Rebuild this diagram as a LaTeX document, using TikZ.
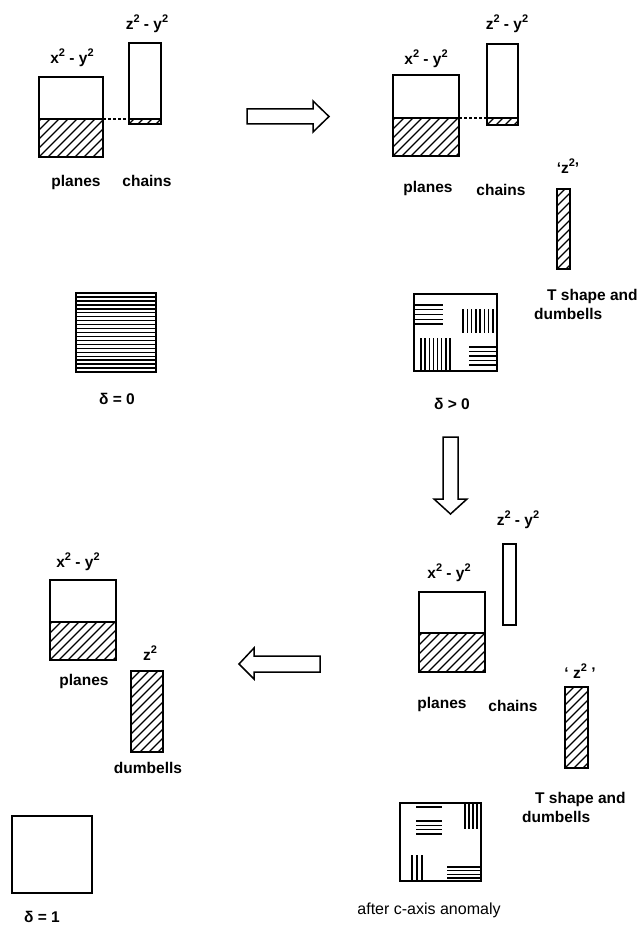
\documentclass[tikz,border=0pt]{standalone}
\usepackage{fontspec}
\setmainfont{Liberation Sans}
\newcommand\sqr{\raisebox{0.42em}{\fontsize{11}{11}\selectfont\bfseries 2}}
\newcommand\hatchrect[4]{%
  \begin{scope}
    \clip (#1,#2) rectangle (#3,#4);
    \foreach \s in {-99,-90,...,80} \draw[hatchline] ({#1+\s},#4) -- ++(120,-120);
  \end{scope}}
\begin{document}
\begin{tikzpicture}[x=1pt,y=-1pt,line join=miter]
\tikzset{
  box/.style={draw,line width=1.4pt},
  hatchline/.style={line width=1.1pt},
  stripe/.style={line width=1.4pt},
  bigarrow/.style={draw,line width=1.5pt,fill=white},
  lbl/.style={font=\fontsize{15.5}{19}\selectfont\bfseries,inner sep=0pt},
  plainlbl/.style={font=\fontsize{16}{19}\selectfont,inner sep=0pt},
  dotline/.style={line width=1.2pt,dash pattern=on 2.5pt off 2.5pt}
}
\useasboundingbox (0,0) rectangle (643,933);

% ---------- panel 1 (top left) ----------
\node[lbl] (p1xy) at (72,58) {x\sqr\ - y\sqr};
\node[lbl] (p1zy) at (147,24) {z\sqr\ - y\sqr};
\hatchrect{39}{119}{103}{157}
\draw[box] (39,77) rectangle (103,157);
\draw[box] (39,119) -- (103,119);
\hatchrect{129}{119}{161}{124}
\draw[box] (129,43) rectangle (161,124);
\draw[box] (129,119) -- (161,119);
\draw[dotline] (103,119) -- (129,119);
\node[lbl] (p1pl) at (76,182) {planes};
\node[lbl] (p1ch) at (147,181) {chains};
\draw[box] (76,293) rectangle (156,372);
\foreach \k in {1,...,19} \draw[stripe] (76,{293+\k*3.95}) -- (156,{293+\k*3.95});
\node[lbl] (d0) at (117,399) {δ = 0};

% right arrow
\draw[bigarrow] (247,109) -- (313,109) -- (313,101) -- (329,116.5) -- (313,132) -- (313,124) -- (247,124) -- cycle;

% ---------- panel 2 (top right) ----------
\node[lbl] (p2xy) at (426,59) {x\sqr\ - y\sqr};
\node[lbl] (p2zy) at (507,24) {z\sqr\ - y\sqr};
\hatchrect{393}{118}{459}{156}
\draw[box] (393,75) rectangle (459,156);
\draw[box] (393,118) -- (459,118);
\hatchrect{487}{118}{518}{125}
\draw[box] (487,44) rectangle (518,125);
\draw[box] (487,118) -- (518,118);
\draw[dotline] (459,118) -- (487,118);
\node[lbl] (p2pl) at (428,188) {planes};
\node[lbl] (p2ch) at (501,190) {chains};
\node[lbl] (p2z) at (568,166) {‘z\sqr’};
\hatchrect{557}{189}{570}{269}
\draw[box] (557,189) rectangle (570,269);
\node[lbl,anchor=north west,align=left] (p2t) at (534,289) {\hspace*{13pt}T shape and\\dumbells};
\draw[box] (414,294) rectangle (497,371);
\foreach \y in {305,309.75,314.5,319.25,324} \draw[stripe] (414,\y) -- (443,\y);
\foreach \x in {463,467.3,471.6,475.9,480.1,484.4,488.7,493} \draw[stripe] (\x,309) -- (\x,333);
\foreach \x in {421,425.1,429.3,433.4,437.6,441.7,445.9,450} \draw[stripe] (\x,338) -- (\x,371);
\foreach \y in {347,351.5,356,360.5,365} \draw[stripe] (469,\y) -- (497,\y);
\node[lbl] (dg) at (452,404) {δ > 0};

% down arrow
\draw[bigarrow] (443,437) -- (458,437) -- (458,499) -- (467,499) -- (450.5,514) -- (434,499) -- (443,499) -- cycle;

% ---------- panel 3 (bottom right) ----------
\node[lbl] (p3zy) at (518,520) {z\sqr\ - y\sqr};
\draw[box] (503,544) rectangle (516,625);
\node[lbl] (p3xy) at (449,573) {x\sqr\ - y\sqr};
\hatchrect{419}{633}{485}{672}
\draw[box] (419,592) rectangle (485,672);
\draw[box] (419,633) -- (485,633);
\node[lbl] (p3pl) at (442,704) {planes};
\node[lbl] (p3ch) at (513,706) {chains};
\node[lbl] (p3z) at (580,671) {‘ z\sqr\ ’};
\hatchrect{565}{687}{588}{768}
\draw[box] (565,687) rectangle (588,768);
\node[lbl,anchor=north west,align=left] (p3t) at (522,792) {\hspace*{13pt}T shape and\\dumbells};
\draw[box] (400,803) rectangle (481,881);
\draw[stripe] (416,807) -- (442,807);
\foreach \y in {821,825.3,829.6,834} \draw[stripe] (416,\y) -- (442,\y);
\foreach \x in {465,469,473,477} \draw[stripe] (\x,803) -- (\x,829);
\foreach \x in {412,417,422} \draw[stripe] (\x,855) -- (\x,881);
\foreach \y in {867,870.7,874.3,878} \draw[stripe] (447,\y) -- (481,\y);
\node[plainlbl] (anom) at (429,910) {after c-axis anomaly};

% left arrow
\draw[bigarrow] (320,656) -- (254,656) -- (254,648) -- (239,664) -- (254,679) -- (254,672) -- (320,672) -- cycle;

% ---------- panel 4 (bottom left) ----------
\node[lbl] (p4xy) at (78,562) {x\sqr\ - y\sqr};
\hatchrect{50}{622}{116}{660}
\draw[box] (50,580) rectangle (116,660);
\draw[box] (50,622) -- (116,622);
\node[lbl] (p4pl) at (84,681) {planes};
\node[lbl] (p4z) at (150,653) {z\sqr};
\hatchrect{131}{671}{163}{752}
\draw[box] (131,671) rectangle (163,752);
\node[lbl] (p4db) at (148,768) {dumbells};
\draw[box] (12,816) rectangle (92,893);
\node[lbl] (d1) at (42,917) {δ = 1};
\end{tikzpicture}
\end{document}
